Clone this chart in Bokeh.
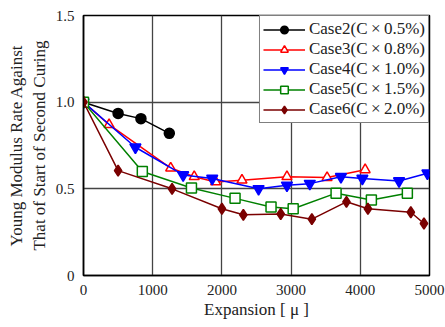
from bokeh.plotting import figure
from bokeh.embed import file_html
from bokeh.resources import INLINE
from bokeh.models import FixedTicker, Legend, LegendItem

case2_x = [0, 500, 830, 1240]
case2_y = [1.0, 0.935, 0.905, 0.82]
case3_x = [0, 370, 1260, 1600, 1910, 2290, 2940, 3520, 4070]
case3_y = [1.0, 0.87, 0.62, 0.57, 0.54, 0.55, 0.57, 0.565, 0.61]
case4_x = [0, 750, 1440, 1860, 2530, 2940, 3270, 3720, 4030, 4560, 4970]
case4_y = [1.0, 0.74, 0.58, 0.56, 0.50, 0.52, 0.53, 0.57, 0.56, 0.545, 0.59]
case5_x = [0, 850, 1560, 2190, 2710, 3030, 3650, 4160, 4680]
case5_y = [1.0, 0.60, 0.505, 0.445, 0.395, 0.385, 0.475, 0.435, 0.475]
case6_x = [0, 500, 1280, 2000, 2310, 2850, 3300, 3800, 4110, 4730, 4920]
case6_y = [1.0, 0.605, 0.50, 0.385, 0.35, 0.355, 0.325, 0.425, 0.385, 0.365, 0.30]
labels = ["Case2(C\u2009\u00d7\u20090.5%)", "Case3(C\u2009\u00d7\u20090.8%)",
          "Case4(C\u2009\u00d7\u20091.0%)", "Case5(C\u2009\u00d7\u20091.5%)",
          "Case6(C\u2009\u00d7\u20092.0%)"]
x_ticks = [0, 1000, 2000, 3000, 4000, 5000]
y_ticks = [0, 0.5, 1.0, 1.5]
y_tick_labels = {0: "0", 0.5: "0.5", 1.0: "1.0", 1.5: "1.5"}

FONT = "serif"

p = figure(width=445, height=327, output_backend="svg", toolbar_location=None,
           x_range=(0, 5000), y_range=(0, 1.5),
           min_border_left=83, min_border_right=16, min_border_top=15, min_border_bottom=52)
p.outline_line_color = "black"
p.outline_line_width = 1.5

for ax in (p.xaxis, p.yaxis):
    ax.axis_line_color = "black"
    ax.axis_line_width = 1.5
    ax.major_tick_line_color = None
    ax.minor_tick_line_color = None
    ax.major_label_text_font = FONT
    ax.major_label_text_font_size = "15px"
    ax.major_label_text_color = "#222222"
    ax.axis_label_text_font = FONT
    ax.axis_label_text_font_size = "17px"
    ax.axis_label_text_font_style = "normal"
    ax.axis_label_text_color = "#222222"

p.xaxis.ticker = FixedTicker(ticks=x_ticks)
p.yaxis.ticker = FixedTicker(ticks=y_ticks)
p.yaxis.major_label_overrides = y_tick_labels
p.xaxis.axis_label = "Expansion [ \u03bc ]"
p.yaxis.axis_label = "Young Modulus Rate Against\nThat of Start of Second Curing"
p.xaxis.major_label_standoff = 3
p.yaxis.major_label_standoff = 3
p.xaxis.axis_label_standoff = 2
p.yaxis.axis_label_standoff = 4

p.xgrid.ticker = FixedTicker(ticks=[1000, 2000, 3000, 4000])
p.ygrid.ticker = FixedTicker(ticks=[0.5, 1.0])
for g in (p.xgrid, p.ygrid):
    g.grid_line_color = "#444444"
    g.grid_line_width = 1.3

items = []
series = [
    (case2_x, case2_y, "black", "circle", "black", 10),
    (case3_x, case3_y, "red", "triangle", "white", 10),
    (case4_x, case4_y, "blue", "inverted_triangle", "blue", 11),
    (case5_x, case5_y, "green", "square", "white", 10),
    (case6_x, case6_y, "#7a0000", "diamond", "#7a0000", 11),
]
for (xs, ys, col, mk, fill, sz), lab in zip(series, labels):
    r1 = p.line(xs, ys, line_color=col, line_width=1.5)
    r2 = p.scatter(xs, ys, marker=mk, size=sz, line_color=col, fill_color=fill, line_width=1.5)
    items.append(LegendItem(label=lab, renderers=[r1, r2]))

legend = Legend(items=items, location="top_right")
legend.margin = 0
legend.padding = 3
legend.spacing = 0
legend.label_text_font = "Times New Roman"
legend.label_text_font_size = "17px"
legend.label_text_color = "#222222"
legend.label_height = 19
legend.glyph_height = 19
legend.glyph_width = 42
legend.label_standoff = 4
legend.border_line_color = "black"
legend.border_line_width = 1.2
legend.background_fill_alpha = 1
p.add_layout(legend)

open("out.html", "w").write(file_html(p, INLINE))
